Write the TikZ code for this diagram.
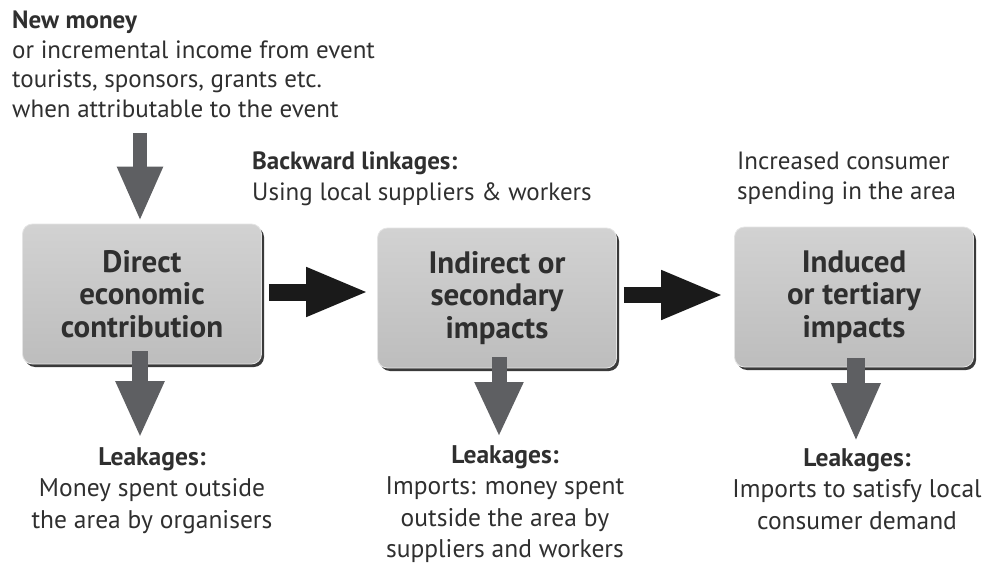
\documentclass[tikz,border=0pt]{standalone}
\usepackage{fontspec}
\setmainfont{PT Sans}
\usetikzlibrary{arrows.meta,shadows}
\definecolor{ink}{HTML}{2F2F2F}
\definecolor{boxtop}{HTML}{D2D2D2}
\definecolor{boxbot}{HTML}{BDBDBD}
\definecolor{rim}{HTML}{3A3A3A}
\definecolor{edge}{HTML}{E4E4E4}
\definecolor{leak}{HTML}{5E5F62}
\definecolor{flow}{HTML}{1A1A1A}
\begin{document}
\begin{tikzpicture}[x=1pt,y=-1pt,
  stage/.style={rounded corners=10pt, minimum width=239pt, minimum height=140pt,
    top color=boxtop, bottom color=boxbot, draw=edge, line width=0.8pt,
    general shadow={fill=rim, shadow xshift=2.5pt, shadow yshift=-3pt},
    align=center, inner sep=0pt, text=ink,
    font=\fontsize{31}{32.5}\selectfont\bfseries},
  note/.style={align=left, inner sep=0pt, text=ink, font=\fontsize{25}{29.5}\selectfont},
  leaknote/.style={align=center, inner sep=0pt, text=ink, font=\fontsize{25.5}{31.5}\selectfont},
  flowarrow/.style={draw=flow, line width=17pt, -{Triangle[length=63pt,width=45pt]}},
  leakarrow/.style={draw=leak, line width=16pt, -{Triangle[length=57pt,width=45pt]}}]
\useasboundingbox (0,0) rectangle (982,564);

% the three stages
\node[stage] (direct)   at (142,294) {Direct\\economic\\contribution};
\node[stage] (indirect) at (497,298) {Indirect or\\secondary\\impacts};
\node[stage] (induced)  at (854,297) {Induced\\or tertiary\\impacts};

% notes above the stages
\node[note, anchor=north west] (newmoney) at (12,11)
  {\textbf{New money}\\or incremental income from event\\tourists, sponsors, grants etc.\\when attributable to the event};
\node[note, anchor=north west, font=\fontsize{25}{30.5}\selectfont] (backward) at (252,152)
  {\textbf{Backward linkages:}\\Using local suppliers \& workers};
\node[note, anchor=north west] (consumer) at (737,152)
  {Increased consumer\\spending in the area};

% leakages below the stages
\node[leaknote, anchor=north] (leak1) at (152,447)
  {\textbf{Leakages:}\\Money spent outside\\the area by organisers};
\node[leaknote, anchor=north] (leak2) at (505,445)
  {\textbf{Leakages:}\\Imports: money spent\\outside the area by\\suppliers and workers};
\node[leaknote, anchor=north] (leak3) at (857,448)
  {\textbf{Leakages:}\\Imports to satisfy local\\consumer demand};

% money flowing in
\coordinate (inflow) at (140,133);
\draw[leakarrow, line width=14pt, -{Triangle[length=55pt,width=42pt]}, shorten >=2pt]
  (inflow) -- (inflow |- direct.north);

% flow between stages
\draw[flowarrow, shorten <=7pt, shorten >=8pt]
  ([yshift=2pt]direct.east) -- ([yshift=6pt]indirect.west);
\draw[flowarrow, line width=16pt, shorten <=7pt, shorten >=10pt]
  ([yshift=3pt]indirect.east) -- ([yshift=2pt]induced.west);

% leakages out of each stage
\coordinate (out1) at (140,351);
\coordinate (out2) at (499,357);
\coordinate (out3) at (856,358);
\draw[leakarrow] (out1) -- ([yshift=9pt]out1 |- leak1.north);
\draw[leakarrow, line width=15pt, -{Triangle[length=55pt,width=45pt]}] (out2) -- ([yshift=8pt]out2 |- leak2.north);
\draw[leakarrow, line width=18pt, -{Triangle[length=59pt,width=45pt]}] (out3) -- ([yshift=6pt]out3 |- leak3.north);
\end{tikzpicture}
\end{document}
